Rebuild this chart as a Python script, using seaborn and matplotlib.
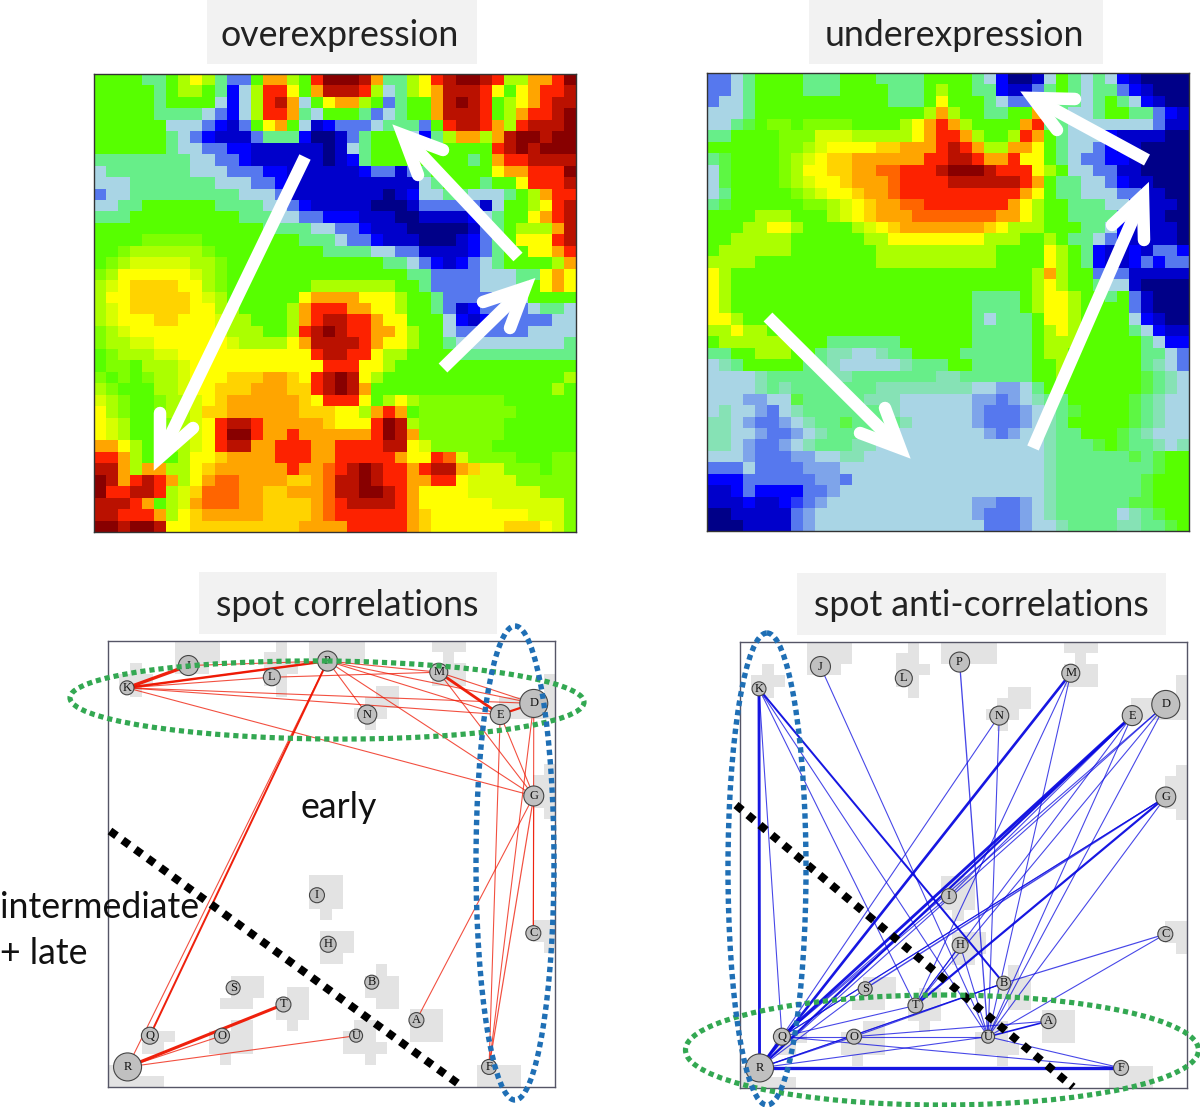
import matplotlib
matplotlib.use("Agg")
import numpy as np
import pandas as pd
import seaborn as sns
import matplotlib.pyplot as plt
from matplotlib.colors import LinearSegmentedColormap
from matplotlib.patches import Ellipse, Rectangle

# Heatmap level codes, read by eye: 0 navy .. 6 green .. 8 yellow .. c dark red;
# the letters below are half steps between two of those levels
half_steps = {"k":2.5,"j":3.5,"d":4.5,"e":5.5,"f":6.5,"g":7.5,"h":8.5,"i":9.5}
over_rows = [
"6666556787 53369976ac ccb95578ab ccba7799ac",
"6666656776 5247aa869b bba7457 89b bba8689aab",
"6666656666 4247ab9468 99763566 9b cba6789abb",
"6666655554 3247aa9546 6653456 69b bba679aabc",
"6666664443 2136896412 3334555 36a bba97abbbc",
"6666665432 1113555200 1356664 257 9979bccbcc",
"6666665443 3221111110 1456666666 666abcbccc",
"5555555544 3321111110 1256666666 6569aabbbb",
"4555555544 4333221111 1123313566 6668 99aaac",
"4445555555 4443321111 1111111456 6656 68aaab",
"3445555555 5544431111 1111012445 5444 567 9aa",
"4455666666 5555443211 1110001333 331466 78ab",
"5556666666 6655544332 2211100111 1245668 9ab",
"6666666666 6666555544 3321110000 01356777 9b",
"6666fffff6 6666666555 4332111000 12356888ab",
"66f777777f 6666666665 5554433111 1235668 89a",
"6f7ggggg77 f666666666 6666554321 2345666679",
"f7888888g7 f666666666 6666665533 3344455898",
"7g8hhhh887 f666666677 7777766533 3344456898",
"788hhhhh8g 7666666899 9988876653 3334446666",
"7g8hhhhh88 7766667 9aa a998876653 1233334554",
"7g888hh888 g776667 9ab baa9886664 2123333344",
"f7g8888888 g777667abc baa9987664 3333334444",
"f77gg88888 8g77778 9bb bba9887665 4444444445",
"6f777gg888 88888888ab baa8776666 5555555555",
"6ff6777g88 88888888 8a aa88766666 6666666666",
"f6f6f77g88 8hhh99h8ab cb87666666 6666666667",
"7f66677g88 hhh999hhab cb96666666 6666666676",
"g7f66f77g8 h999999h8a aa86787fff ffff666666",
"87f66f77gh h999999hhh 8879a96fff fffff66666",
"8g7666f7g8 abba99999h 888acb7fff ffff666666",
"8g7666f7g8 acca99a999 999acb9fff ffff666666",
"998765f7g8 abb99aaa99 aaaabb8gff fff6666666",
"aa97666788 h9999aaa99 aaaaa988ai gffff666ff",
"bb97997 78h 999999a99i abcbaa9abb 9hggfff6ff",
"cb9aba9789 ii9999hh9i bbcbaa99aa 8ggggfffff",
"caabba7ghi ii99hh999i bbccba9888 8ggggggfff",
"bbba967g9i ii99hhhh9i abbbba9888 888ggggggf",
"bbaaa978h9 9999hhhh9i aaaaaa9h88 888888gggf",
"ccbccb88hh hhhhhhh999 9aaaaa9h88 8888hhh8gf",
]
under_rows = [
"3345666655 5666555566 6654200146 5454210000",
"3345666655 5666655567 6655211356 5455321000",
"3445666666 6666655568 6665433555 5456542100",
"4445666666 6666666679 7665566955 4456655321",
"445e6ff6ff ff6666789a 9766669a55 4444444311",
"556666fffg gg77777 89a a97667a965 4442111100",
"666666ff7g 8888hh999a ba97799865 4432110000",
"5e6666f7g8 hh999999aa bba99a8865 4332210000",
"4e6666f788 hh99iiaaab cccbaaa876 4433110000",
"4e6666f7g8 8h999iaaaa bbbbbba965 5443211000",
"4566666f7g 88h99iaaaa aaaaaa9865 5444331100",
"5e666666ff 7g8h99iiaa aaaaa98766 5554421110",
"6666777666 7g8h999iii iiii998766 5555321100",
"6667788766 667g8h9999 999h877766 6554211110",
"6677777666 6667788888 8887776676 5543211110",
"6777777666 6666777777 7777666687 6521121332",
"7777666666 6666777777 7777666687 6521123233",
"8766666666 6666666666 6666666797 6633311111",
"8766666666 6666666666 6666666787 6654410000",
"8766666666 6666666666 6655556788 7665631000",
"8766666666 6666666666 6655556788 7666631000",
"8876666666 6666666666 6654555688 7666642100",
"7787766666 6666666666 6655555678 7666654211",
"6777777666 5555556666 6655555677 7666665422",
"5566777665 dd44d55666 6555555677 6666665543",
"4d56666655 d44444d555 6655555667 6666665d43",
"4444d55555 dd5555555d d555555667 666666e5d4",
"4444d5d555 5555dddddd dd44jj4566 666666e5d4",
"444jj44e55 555ddd4444 44jj3j4d55 66666e5d44",
"4d44j34d55 55555d4444 44j333j4d5 e6666e5d44",
"dd4j33j4d5 5e5555d444 44j333j4d5 66666e5d44",
"dd44j33j4d 5555d44444 444j3j44d5 5666e5d444",
"dd4j33j4d5 55dd444444 44444444d5 55e6e55d4d",
"444j333jj4 4dd4444444 44444444d5 55555e5e66",
"33343333jj j444444444 44444444d5 5555555e66",
"222333333j j344444444 44444444d5 555555e666",
"1123222233 j444444444 44444444d5 555555e666",
"1112112k3j 4444444444 44jj33j4d5 55555ee666",
"00111113j4 4444444444 44j333j4d5 55554d5e66",
"00011113j4 4444444444 444333j44d 5555dd55e6",
]
level_colors = ["#000088", "#0000cc", "#0000ff", "#5577ee", "#a9d5e5", "#66ee88", "#55ff00",
                "#aaff00", "#ffff00", "#ffaa00", "#ff2200", "#bb1100", "#880000"]

node_names = list("KJLPMNEDGIHCBSTOQUARF")
node_col = [1.7, 7.2, 14.66, 19.65, 29.6, 23.2, 35.1, 38.1, 38.1, 18.7, 19.7, 38.06, 23.6, 11.2, 15.7, 10.2, 3.75, 22.2, 27.6, 1.75, 34.1]
node_row = [4.2, 2.2, 3.25, 1.8, 2.8, 6.6, 6.6, 5.6, 13.9, 22.8, 27.2, 26.2, 30.6, 31.1, 32.6, 35.4, 35.4, 35.4, 34.0, 38.2, 38.2]
node_diam = [14, 20, 17, 20, 18, 19, 20, 28, 20, 15, 16, 15, 14, 14, 15, 15, 17, 13, 15, 28, 15]

# spot patches: (col0, col1, row0, row1) in SOM cells
spot_cells = [
(2,3,2,5),(1,4,3,4),(6,10,0,2),(6,9,2,3),(15,16,0,1),(14,16,1,2),(14,17,2,3),(14,16,3,4),(15,16,4,5),
(18,23,0,2),(29,32,0,1),(30,31,1,2),(29,32,2,4),(24,26,4,6),(23,26,5,6),(22,25,6,7),(23,24,7,8),
(35,37,5,7),(39,40,3,7),(37,40,6,7),(39,40,11,16),(38,40,12,15),(18,21,21,24),(19,20,24,25),
(19,22,26,28),(19,21,28,29),(38,40,25,27),(39,40,27,28),(24,25,29,30),(23,26,30,32),(24,26,32,33),
(11,14,30,32),(10,13,32,33),(16,18,31,32),(15,18,32,34),(16,17,34,35),(11,13,34,35),(9,13,35,37),
(10,11,37,38),(4,6,35,36),(3,5,36,37),(22,24,34,35),(21,24,35,36),(21,25,36,37),(23,24,37,38),
(27,30,33,36),(0,2,38,39),(0,5,39,40),(33,37,38,40),
]

corr_edges = [("K","J",3),("K","P",2.2),("K","L",1),("K","D",1),("K","E",1),("K","G",1),("K","P",.8),
("L","M",.7),("J","P",.8),("P","M",.9),("P","N",.7),("P","D",.7),("P","E",.7),("P","G",.7),
("M","E",2.6),("M","D",.7),("M","G",.7),("E","D",2),("E","G",1),("E","F",.7),("D","F",.7),("D","C",.8),
("G","F",1.1),("G","A",1),("G","C",.7),("P","Q",1.8),("P","R",.6),("R","T",2.8),("R","O",.6),("R","U",.6)]
anti_edges = [("K","R",2.6),("K","Q",.8),("K","B",1.8),("K","T",.8),("K","U",.8),("J","U",.8),("N","Q",.7),
("N","U",1),("P","U",1.2),("M","R",2.4),("M","T",.9),("M","U",1),("E","Q",2.6),("E","R",2),("E","T",.8),
("E","U",.8),("E","I",.7),("D","Q",.8),("D","R",.7),("D","T",1),("D","U",1),("G","S",1.3),("G","Q",.8),
("G","T",2),("G","U",1),("G","Q",.7),("C","B",1.1),("C","U",.8),("B","O",1),("B","R",1),("H","T",1),("H","U",.8),
("I","Q",.8),("A","O",1),("A","U",1.5),("O","Q",1),("O","U",1),("Q","F",1),("U","F",1),("R","F",3),("R","O",1),
("R","U",1),("Q","R",2),("R","S",.7),("T","Q",.8),("R","B",.8)]

panel_titles = ["overexpression", "underexpression", "spot correlations", "spot anti-correlations"]
title_boxes = [(207,477,0,64),(809,1103,0,64),(199,497,572,634),(797,1166,573,635)]
title_pos = [(340,35),(954,35),(347,605),(981,606)]
free_text = [("early",300,807),("intermediate",0,908),("+ late",0,954)]
# annotation layer, in pixels of the picture
white_arrows = [((305,157),(160,457),(160,413),(193,428)),((518,257),(403,135),(443,150),(418,175)),
                ((443,368),(525,288),(483,302),(510,328)),((768,317),(900,448),(885,408),(860,433)),
                ((1033,448),(1143,196),(1112,225),(1144,240)),((1147,160),(1033,98),(1075,99),(1057,130))]
green_rings = [(327,700,514,78,.5),(942,1050,513,110,0)]
blue_rings = [(515,863,78,474,0),(767,869,78,472,0)]
black_cuts = [((110,831),(460,1085)),((736,805),(1073,1087))]

W, H = 1200, 1107
sns.set_theme(style="white")
plt.rcParams["font.family"] = ["Lato", "DejaVu Sans"]
fig = plt.figure(figsize=(W/100, H/100), dpi=100, facecolor="white")
px = 0.72

def rect_axes(x0, x1, y0, y1, **kw):
    return fig.add_axes([x0/W, 1-y1/H, (x1-x0)/W, (y1-y0)/H], **kw)

def decode(rows):
    clean = ["".join(r.split()) for r in rows]
    assert len(clean) == 40 and all(len(r) == 40 for r in clean), [len(r) for r in clean]
    return np.array([[half_steps[c] if c in half_steps else int(c, 13) for c in r] for r in clean], float)

cmap = LinearSegmentedColormap.from_list("som", level_colors, N=256)
for rows, box in [(over_rows,(94,576,74,532)),(under_rows,(707,1189,73,531))]:
    ax = rect_axes(*box)
    sns.heatmap(decode(rows), cmap=cmap, vmin=0, vmax=12, cbar=False, ax=ax, xticklabels=False, yticklabels=False)
    for s in ax.spines.values():
        s.set_visible(True); s.set_color("#333333"); s.set_linewidth(1)

nodes = pd.DataFrame({"name":node_names,"col":node_col,"row":node_row,"d":node_diam}).set_index("name")
for edges, box, color in [(corr_edges,(108,555,641,1087),"#ee1500"),(anti_edges,(740,1187,642,1088),"#0a0ae0")]:
    ax = rect_axes(*box)
    ax.set_xlim(0,40); ax.set_ylim(40,0)
    for c0,c1,r0,r1 in spot_cells:
        ax.add_patch(Rectangle((c0,r0),c1-c0,r1-r0,fc="#e3e3e3",ec="none",zorder=1))
    for a,b,w in edges:
        ax.plot([nodes.col[a],nodes.col[b]],[nodes.row[a],nodes.row[b]],color=color,lw=max(w*1.1,1.1)*px,
                alpha=0.95 if w>=1.5 else 0.75,zorder=2,solid_capstyle="butt")
    sns.scatterplot(data=nodes,x="col",y="row",s=(nodes.d*px)**2,color="#c0c0c0",edgecolor="#444444",
                    linewidth=0.8,ax=ax,zorder=3,legend=False,clip_on=False)
    for n,r in nodes.iterrows():
        ax.text(r.col,r.row,n,ha="center",va="center",fontsize=9,family="Liberation Serif",color="#111111",zorder=4)
    ax.set_xticks([]); ax.set_yticks([]); ax.set_xlabel(""); ax.set_ylabel("")
    for s in ax.spines.values():
        s.set_visible(True); s.set_color("#555566"); s.set_linewidth(1)

ov = fig.add_axes([0,0,1,1],zorder=10,facecolor="none")
ov.set_xlim(0,W); ov.set_ylim(H,0); ov.axis("off")
for (x0,x1,y0,y1) in title_boxes:
    ov.add_patch(Rectangle((x0,y0),x1-x0,y1-y0,fc="#f2f2f2",ec="none",zorder=1))
for t,(x,y) in zip(panel_titles,title_pos):
    ov.text(x,y,t,ha="center",va="center",fontsize=25.7,color="#222222",zorder=2)
for t,x,y in free_text:
    ov.text(x,y,t,ha="left",va="center",fontsize=25.7,color="#111111",zorder=6)
for tail,tip,b1,b2 in white_arrows:
    ov.plot([tail[0],tip[0]],[tail[1],tip[1]],color="white",lw=12.5*px,solid_capstyle="butt",zorder=3)
    ov.plot([b1[0],tip[0],b2[0]],[b1[1],tip[1],b2[1]],color="white",lw=12.5*px,solid_capstyle="round",solid_joinstyle="miter",zorder=3)
for cx,cy,w,h,ang in green_rings:
    ov.add_patch(Ellipse((cx,cy),w,h,angle=ang,fill=False,ec="#33a852",lw=5.2*px,ls=(0,(1,.75)),zorder=5))
for cx,cy,w,h,ang in blue_rings:
    ov.add_patch(Ellipse((cx,cy),w,h,angle=ang,fill=False,ec="#1f6fb5",lw=5.4*px,ls=(0,(1,.75)),zorder=5))
for a,b in black_cuts:
    ov.plot([a[0],b[0]],[a[1],b[1]],color="black",lw=8*px,ls=(0,(1,.95)),zorder=4)
fig.savefig("out.png",dpi=100,facecolor="white")
